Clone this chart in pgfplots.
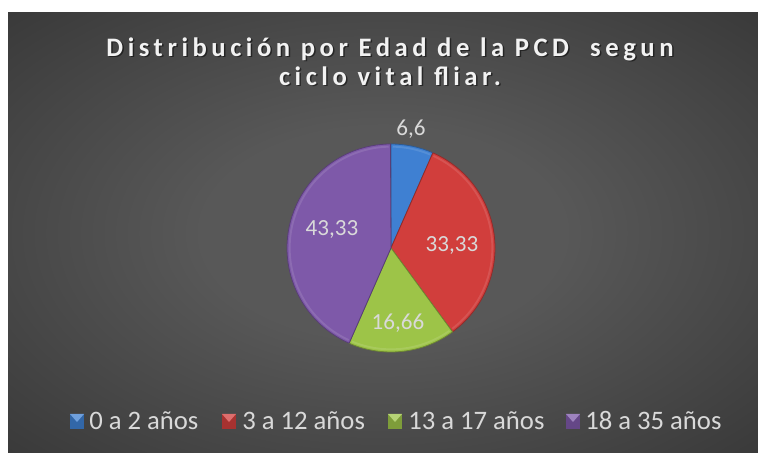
\documentclass[border=0pt]{standalone}
\usepackage{fontspec}
\setmainfont{Carlito}
\newfontfamily\titlefont[LetterSpace=17]{Carlito}
\usepackage{pgfplots}
\pgfplotsset{compat=1.18}
\usepackage{pgfplotstable}

\definecolor{bgIn}{HTML}{585858}
\definecolor{bgOut}{HTML}{272727}
\definecolor{titleCol}{HTML}{F2F2F2}
\definecolor{labelCol}{HTML}{D9D9D9}
\definecolor{sliceBlue}{HTML}{3F80D2}
\definecolor{sliceRed}{HTML}{D13E3C}
\definecolor{sliceGreen}{HTML}{9DC448}
\definecolor{slicePurple}{HTML}{7E59A9}

\pgfdeclareradialshading{chartbg}{\pgfpoint{0bp}{0bp}}{color(0bp)=(bgIn); color(12bp)=(bgIn); color(50bp)=(bgOut)}

% name; value (%); colour; label text; label x,y; legend marker x; legend text x
\pgfplotstableread[col sep=semicolon]{
name;value;color;txt;lx;ly;mx;tx
0 a 2 años;6.6;sliceBlue;6,6;411;317;70;89
3 a 12 años;33.33;sliceRed;33,33;452;201;222;242
13 a 17 años;16.66;sliceGreen;16,66;398;123;388;408
18 a 35 años;43.33;slicePurple;43,33;332;217;566;585
}\piedata

\begin{document}
\begin{tikzpicture}
\begin{axis}[
    scale only axis,
    width=568.5pt, height=339.75pt,
    xmin=0, xmax=758, ymin=0, ymax=453,
    hide axis, clip=false,
]
\path (axis cs:0,0) rectangle (axis cs:758,453);
\shade[shading=chartbg] (axis cs:8,0) rectangle (axis cs:758,440);

% title, with a soft shadow
\node[anchor=base, inner sep=0, text=black, opacity=0.5,
      font=\titlefont\bfseries\fontsize{20pt}{24pt}\selectfont]
      at (axis cs:391.5,395) {Distribución por Edad de la PCD\ \ segun};
\node[anchor=base, inner sep=0, text=titleCol,
      font=\titlefont\bfseries\fontsize{20pt}{24pt}\selectfont]
      at (axis cs:390,396) {Distribución por Edad de la PCD\ \ segun};
\node[anchor=base, inner sep=0, text=black, opacity=0.5,
      font=\titlefont\bfseries\fontsize{20pt}{24pt}\selectfont]
      at (axis cs:391.5,366) {ciclo vital fliar.};
\node[anchor=base, inner sep=0, text=titleCol,
      font=\titlefont\bfseries\fontsize{20pt}{24pt}\selectfont]
      at (axis cs:390,367) {ciclo vital fliar.};

% slices, clockwise from 12 o'clock
\xdef\angstart{90}
\pgfplotsinvokeforeach{0,...,3}{
    \pgfplotstablegetelem{#1}{value}\of\piedata \let\slval\pgfplotsretval
    \pgfplotstablegetelem{#1}{color}\of\piedata \let\slcol\pgfplotsretval
    \pgfplotstablegetelem{#1}{name}\of\piedata \let\slname\pgfplotsretval
    \pgfplotstablegetelem{#1}{mx}\of\piedata \let\slmx\pgfplotsretval
    \pgfplotstablegetelem{#1}{tx}\of\piedata \let\sltx\pgfplotsretval
    \pgfmathsetmacro\angend{\angstart-3.6*\slval}
    \pgfmathsetmacro\slmxr{\slmx+14}
    \pgfmathsetmacro\slmxc{\slmx+7}
    \edef\temp{%
      \noexpand\fill[\slcol, draw=\slcol!70!black, line width=0.6pt]
        (axis cs:391,205) -- ++(\angstart:78pt)
        arc[start angle=\angstart, end angle=\angend, radius=78pt] -- cycle;
      \noexpand\draw[\slcol!75!white, line width=1.4pt, opacity=0.45]
        ([shift={(\angstart-1:76pt)}]axis cs:391,205)
        arc[start angle=\angstart-1, end angle=\angend+1, radius=76pt];
      \noexpand\fill[\slcol!80!black] (axis cs:\slmx,24) rectangle (axis cs:\slmxr,39);
      \noexpand\fill[\slcol!75!white] (axis cs:\slmx,39) -- (axis cs:\slmxr,39) -- (axis cs:\slmxc,31) -- cycle;
      \noexpand\node[anchor=base west, inner sep=0, text=labelCol,
        font=\noexpand\fontsize{20pt}{24pt}\noexpand\selectfont]
        at (axis cs:\sltx,23) {\slname};
    }
    \temp
    \xdef\angstart{\angend}
}

% data labels
\pgfplotsinvokeforeach{0,...,3}{
    \pgfplotstablegetelem{#1}{txt}\of\piedata \let\sltxt\pgfplotsretval
    \pgfplotstablegetelem{#1}{lx}\of\piedata \let\sllx\pgfplotsretval
    \pgfplotstablegetelem{#1}{ly}\of\piedata \let\slly\pgfplotsretval
    \edef\temp{%
      \noexpand\node[anchor=base, inner sep=0, text=labelCol,
        font=\noexpand\fontsize{17.3pt}{21pt}\noexpand\selectfont]
        at (axis cs:\sllx,\slly) {\sltxt};
    }
    \temp
}
\end{axis}
\end{tikzpicture}
\end{document}
